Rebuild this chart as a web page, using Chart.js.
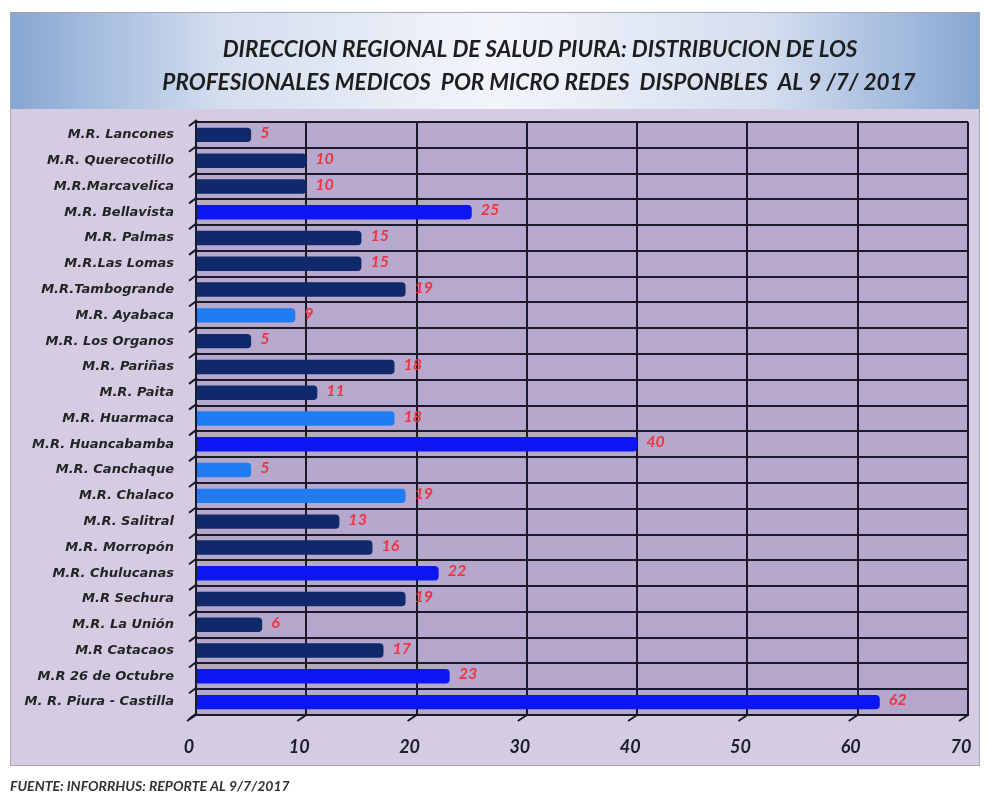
<!DOCTYPE html>
<html>
<head>
<meta charset="utf-8">
<script src="https://cdn.jsdelivr.net/npm/chart.js@4.4.1/dist/chart.umd.min.js"></script>
<style>
  html, body { margin: 0; padding: 0; background: #ffffff; }
  #wrap { width: 986px; height: 796px; position: relative; }
</style>
</head>
<body>
<div id="wrap"><canvas id="chart" width="986" height="796"></canvas></div>
<script>
'use strict';

// micro redes, top to bottom as shown
var microRedes = [
    'M.R. Lancones', 'M.R. Querecotillo', 'M.R.Marcavelica', 'M.R. Bellavista',
    'M.R. Palmas', 'M.R.Las Lomas', 'M.R.Tambogrande', 'M.R. Ayabaca',
    'M.R. Los Organos', 'M.R. Pariñas', 'M.R. Paita', 'M.R. Huarmaca',
    'M.R. Huancabamba', 'M.R. Canchaque', 'M.R. Chalaco', 'M.R. Salitral',
    'M.R. Morropón', 'M.R. Chulucanas', 'M.R Sechura', 'M.R. La Unión',
    'M.R Catacaos', 'M.R 26 de Octubre', 'M. R. Piura - Castilla'
];
var medicos = [5, 10, 10, 25, 15, 15, 19, 9, 5, 18, 11, 18, 40, 5, 19, 13, 16, 22, 19, 6, 17, 23, 62];
// n = navy, b = bright blue, l = light blue
var tono = ['n', 'n', 'n', 'b', 'n', 'n', 'n', 'l', 'n', 'n', 'n', 'l', 'b', 'l', 'l', 'n', 'n', 'b', 'n', 'n', 'n', 'b', 'b'];
var xTicks = [0, 10, 20, 30, 40, 50, 60, 70];

var titleLines = [
    'DIRECCION REGIONAL DE SALUD PIURA: DISTRIBUCION DE LOS',
    'PROFESIONALES MEDICOS  POR MICRO REDES  DISPONBLES  AL 9 /7/ 2017'
];
var fuente = 'FUENTE: INFORRHUS: REPORTE AL 9/7/2017';

var tonoColor = { n: '#10296a', b: '#0b16f2', l: '#1f7cf2' };
var FONT = 'Lato, "Open Sans", "Liberation Sans", sans-serif';
var LABEL_FONT = '"DejaVu Sans", Lato, sans-serif';

/**
 * Backgrounds: title band, lavender panel, plot wall; title and source text.
 */
var backdrop = {
    id: 'backdrop',
    beforeDraw: function(chart) {
        var ctx = chart.ctx,
            a = chart.chartArea;
        ctx.save();
        ctx.fillStyle = '#d3cce2';
        ctx.fillRect(10, 108, 970, 658);
        ctx.strokeStyle = '#a9a6b8';
        ctx.lineWidth = 1;
        ctx.strokeRect(10.5, 12.5, 969, 753);

        var g = ctx.createLinearGradient(10, 0, 980, 0);
        g.addColorStop(0, '#86a6d2');
        g.addColorStop(0.22, '#d4deef');
        g.addColorStop(0.5, '#f3f5fb');
        g.addColorStop(0.78, '#d4deef');
        g.addColorStop(1, '#86a6d2');
        ctx.fillStyle = g;
        ctx.fillRect(11, 13, 968, 96);

        var w = ctx.createLinearGradient(0, a.top, 0, a.bottom);
        w.addColorStop(0, '#b8aacf');
        w.addColorStop(1, '#b4a7cb');
        ctx.fillStyle = w;
        ctx.fillRect(a.left, a.top, a.right - a.left, a.bottom - a.top);
        ctx.restore();
    },
    afterDraw: function(chart) {
        var ctx = chart.ctx;
        ctx.save();
        ctx.textBaseline = 'middle';
        ctx.font = 'italic bold 22.5px ' + FONT;
        ctx.fillStyle = '#1e1e1e';
        ctx.textAlign = 'center';
        ctx.fillText(titleLines[0], 540, 50);
        ctx.fillText(titleLines[1], 539, 83);

        ctx.font = 'italic bold 14px ' + FONT;
        ctx.fillStyle = '#333333';
        ctx.textAlign = 'left';
        ctx.fillText(fuente, 10, 786);
        ctx.restore();
    }
};

/**
 * Small diagonal depth marks along the left and bottom edges.
 */
var depthMarks = {
    id: 'depthMarks',
    afterDatasetsDraw: function(chart) {
        var ctx = chart.ctx,
            a = chart.chartArea,
            x = chart.scales.x,
            y = chart.scales.y,
            half = (y.getPixelForValue(1) - y.getPixelForValue(0)) / 2,
            i, py, px;
        ctx.save();
        ctx.strokeStyle = '#1a1a28';
        ctx.lineWidth = 2;
        ctx.beginPath();
        for (i = 0; i <= microRedes.length; i++) {
            py = y.getPixelForValue(i) - half;
            ctx.moveTo(a.left - 7, py + 4);
            ctx.lineTo(a.left + 1, py - 2);
        }
        for (i = 0; i < xTicks.length; i++) {
            px = x.getPixelForValue(xTicks[i]);
            ctx.moveTo(px - 9, a.bottom + 6);
            ctx.lineTo(px, a.bottom);
        }
        ctx.stroke();
        ctx.restore();
    }
};

/**
 * Red value labels after each bar.
 */
var valueLabels = {
    id: 'valueLabels',
    afterDatasetsDraw: function(chart) {
        var ctx = chart.ctx,
            meta = chart.getDatasetMeta(0);
        ctx.save();
        ctx.font = 'italic bold 16px ' + FONT;
        ctx.fillStyle = '#ec3542';
        ctx.textBaseline = 'middle';
        ctx.textAlign = 'left';
        meta.data.forEach(function(bar, i) {
            ctx.fillText(String(medicos[i]), bar.x + 9, bar.y - 2);
        });
        ctx.restore();
    }
};

new Chart(document.getElementById('chart'), {
    type: 'bar',
    data: {
        labels: microRedes,
        datasets: [{
            data: medicos,
            backgroundColor: tono.map(function(t) { return tonoColor[t]; }),
            borderWidth: 0,
            borderRadius: { topRight: 4, bottomRight: 4 },
            borderSkipped: 'start',
            categoryPercentage: 1,
            barPercentage: 0.56
        }]
    },
    options: {
        indexAxis: 'y',
        responsive: false,
        animation: false,
        layout: { padding: { left: 0, right: 18, top: 122, bottom: 0 } },
        plugins: {
            legend: { display: false },
            tooltip: { enabled: false },
            title: { display: false }
        },
        scales: {
            x: {
                min: 0,
                max: 70,
                afterBuildTicks: function(scale) {
                    scale.ticks = xTicks.map(function(v) { return { value: v }; });
                },
                afterFit: function(scale) {
                    scale.height = 81;
                    scale.paddingLeft = 0;
                    scale.paddingRight = 0;
                },
                grid: { color: '#1a1a28', lineWidth: 2, drawTicks: false },
                border: { display: true, color: '#1a1a28', width: 2 },
                ticks: {
                    color: '#1e1e2a',
                    padding: 21,
                    labelOffset: -7,
                    font: { family: FONT, size: 18, weight: 'bold', style: 'italic' }
                }
            },
            y: {
                afterFit: function(scale) {
                    scale.width = 196;
                    scale.paddingTop = 0;
                    scale.paddingBottom = 0;
                },
                grid: { color: '#1a1a28', lineWidth: 2, drawTicks: false, offset: true },
                border: { display: true, color: '#1a1a28', width: 2 },
                ticks: {
                    color: '#242424',
                    padding: 22,
                    autoSkip: false,
                    font: { family: LABEL_FONT, size: 13, weight: 'bold', style: 'italic' }
                }
            }
        }
    },
    plugins: [backdrop, depthMarks, valueLabels]
});
</script>
</body>
</html>
